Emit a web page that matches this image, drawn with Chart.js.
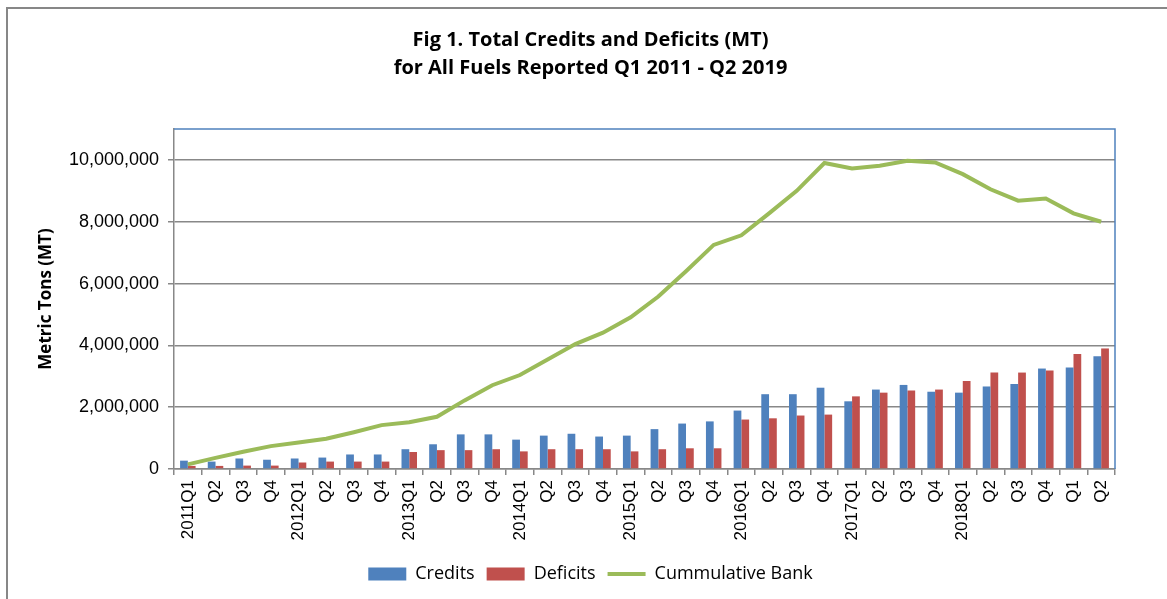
<!DOCTYPE html>
<html>
<head>
<meta charset="utf-8">
<script src="https://cdn.jsdelivr.net/npm/chart.js@4/dist/chart.umd.min.js"></script>
<style>
  html, body { margin: 0; padding: 0; background: #fff; overflow: hidden; }
  #frame { position: absolute; left: 6px; top: 7px; width: 1300px; height: 700px; border: 2px solid #878787; }
  #wrap { position: absolute; left: 0; top: 0; width: 1167px; height: 599px; }
</style>
</head>
<body>
<div id="frame"></div>
<div id="wrap"><canvas id="chart" width="1167" height="599"></canvas></div>
<script>
const quarters = ["2011Q1", "Q2", "Q3", "Q4", "2012Q1", "Q2", "Q3", "Q4",
  "2013Q1", "Q2", "Q3", "Q4", "2014Q1", "Q2", "Q3", "Q4",
  "2015Q1", "Q2", "Q3", "Q4", "2016Q1", "Q2", "Q3", "Q4",
  "2017Q1", "Q2", "Q3", "Q4", "2018Q1", "Q2", "Q3", "Q4", "Q1", "Q2"];

const credits = [270000, 240000, 340000, 300000, 340000, 370000, 470000, 470000,
  640000, 800000, 1120000, 1120000, 950000, 1080000, 1140000, 1050000,
  1080000, 1290000, 1470000, 1540000, 1890000, 2420000, 2420000, 2630000,
  2190000, 2570000, 2720000, 2500000, 2470000, 2670000, 2750000, 3250000,
  3280000, 3650000];

const deficits = [100000, 100000, 110000, 110000, 210000, 240000, 240000, 240000,
  550000, 610000, 610000, 640000, 570000, 640000, 640000, 640000,
  570000, 640000, 670000, 670000, 1600000, 1640000, 1730000, 1760000,
  2350000, 2470000, 2540000, 2570000, 2850000, 3120000, 3120000, 3190000,
  3720000, 3900000];

const bank = [150000, 360000, 560000, 740000, 860000, 980000, 1190000, 1420000,
  1510000, 1690000, 2220000, 2710000, 3040000, 3540000, 4040000, 4410000,
  4910000, 5580000, 6400000, 7250000, 7560000, 8270000, 9000000, 9900000,
  9720000, 9810000, 9970000, 9920000, 9540000, 9050000, 8680000, 8750000,
  8270000, 8000000];

const yTicks = [0, 2000000, 4000000, 6000000, 8000000, 10000000];

// blue frame on top and right of plot area, like the Excel plot area border
const plotBorder = {
  id: "plotBorder",
  afterDraw(chart) {
    const { ctx, chartArea: a } = chart;
    ctx.save();
    ctx.strokeStyle = "#4F81BD";
    ctx.lineWidth = 1.5;
    ctx.beginPath();
    ctx.moveTo(a.left, a.top);
    ctx.lineTo(a.right, a.top);
    ctx.lineTo(a.right, a.bottom);
    ctx.stroke();
    ctx.restore();
  },
};

const ctx = document.getElementById("chart").getContext("2d");
new Chart(ctx, {
  type: "bar",
  data: {
    labels: quarters,
    datasets: [
      { label: "Credits", data: credits, backgroundColor: "#4F81BD", order: 1, pointStyle: "rect" },
      { label: "Deficits", data: deficits, backgroundColor: "#C0504D", order: 1, pointStyle: "rect" },
      {
        type: "line",
        label: "Cummulative Bank",
        data: bank,
        borderColor: "#9BBB59",
        backgroundColor: "#9BBB59",
        borderWidth: 4,
        pointRadius: 0,
        tension: 0,
        order: 0,
        pointStyle: "line",
      },
    ],
  },
  options: {
    responsive: false,
    animation: false,
    // left padding is larger so title and legend sit a bit right of the canvas centre
    layout: { padding: { top: 10, bottom: 6, left: 66, right: 52 } },
    datasets: { bar: { categoryPercentage: 0.56, barPercentage: 1 } },
    plugins: {
      tooltip: { enabled: false },
      title: {
        display: true,
        text: ["Fig 1. Total Credits and Deficits (MT)", "for All Fuels Reported Q1 2011 - Q2 2019"],
        color: "#000",
        font: { family: "'Open Sans'", size: 20, weight: "bold", lineHeight: 1.4 },
        padding: { top: 16, bottom: 47 },
      },
      legend: {
        position: "bottom",
        labels: {
          usePointStyle: true,
          pointStyleWidth: 38,
          boxHeight: 13,
          padding: 12,
          color: "#000",
          font: { family: "'Open Sans'", size: 18 },
          sort: (a, b) => a.datasetIndex - b.datasetIndex,
        },
      },
    },
    scales: {
      x: {
        grid: { drawOnChartArea: false, color: "#888", lineWidth: 1.5, tickLength: 6 },
        border: { color: "#888", width: 1.5 },
        ticks: {
          autoSkip: false,
          maxRotation: 90,
          minRotation: 90,
          color: "#000",
          padding: 5,
          font: { family: "'Liberation Sans'", size: 17 },
        },
        afterFit: (scale) => { scale.height = 84; },
      },
      y: {
        min: 0,
        max: 11000000,
        afterBuildTicks: (scale) => { scale.ticks = yTicks.map((v) => ({ value: v })); },
        grid: { color: "#888", lineWidth: 1.5, tickLength: 6 },
        border: { color: "#888", width: 1.5 },
        ticks: {
          color: "#000",
          padding: 9,
          font: { family: "'Liberation Sans'", size: 18 },
          callback: (v) => v.toLocaleString("en-US"),
        },
        title: {
          display: true,
          text: "Metric Tons (MT)",
          color: "#000",
          font: { family: "'Open Sans'", size: 17, weight: "bold" },
          padding: { top: -30, bottom: 0 },
        },
        afterFit: (scale) => { scale.width = 174 - 66; },
      },
    },
  },
  plugins: [plotBorder],
});
</script>
</body>
</html>
